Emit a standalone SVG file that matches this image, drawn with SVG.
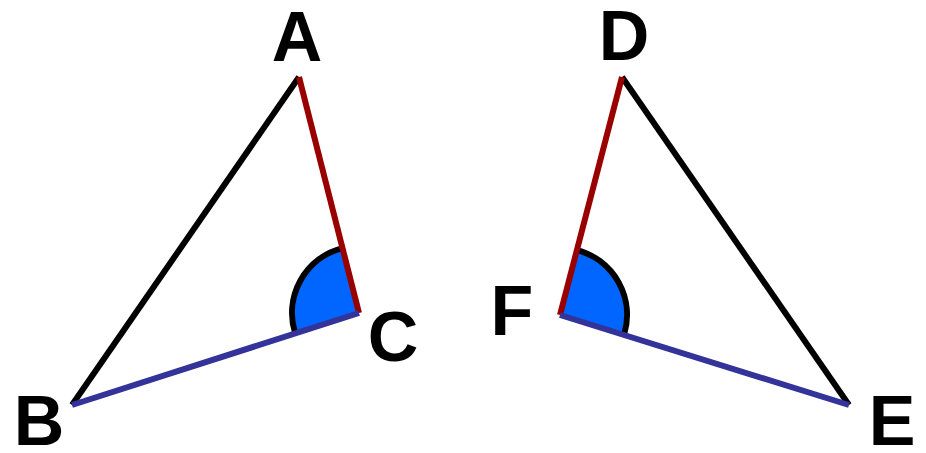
<svg xmlns="http://www.w3.org/2000/svg" width="926" height="453" viewBox="0 0 926 453">
<style>
.lbl{font-family:"Liberation Sans",Arial,sans-serif;font-weight:bold;font-size:70px;fill:#000;text-anchor:middle}
.blk{stroke:#000;stroke-width:6;fill:none;stroke-linecap:butt}
.red{stroke:#990000;stroke-width:6;fill:none}
.blu{stroke:#333399;stroke-width:6;fill:none}
.wedge{fill:#0066FF;stroke:none}
.arc{fill:none;stroke:#000;stroke-width:6}
</style>
<g id="angleC">
<path class="wedge" d="M359,313 L295.2,333.4 A67,67 0 0 1 342.5,248.1 Z"/>
<path class="arc" d="M295.2,333.4 A67,67 0 0 1 342.5,248.1"/>
</g>
<g id="angleF">
<path class="wedge" d="M560,315 L576.9,250.1 A67,67 0 0 1 624,334.9 Z"/>
<path class="arc" d="M576.9,250.1 A67,67 0 0 1 624,334.9"/>
</g>
<g id="connectors">
<line class="blk" x1="299" y1="77" x2="72" y2="405"/>
<line class="red" x1="299" y1="77" x2="359" y2="313"/>
<line class="blu" x1="359" y1="313" x2="72" y2="405"/>
<line class="blk" x1="622" y1="77" x2="849" y2="405"/>
<line class="red" x1="622" y1="77" x2="560" y2="315"/>
<line class="blu" x1="560" y1="315" x2="849" y2="405"/>
</g>
<g id="A"><text class="lbl" x="297" y="61">A</text></g>
<g id="B"><text class="lbl" x="39" y="445">B</text></g>
<g id="C"><text class="lbl" x="393" y="361">C</text></g>
<g id="D"><text class="lbl" x="624" y="60">D</text></g>
<g id="E"><text class="lbl" x="892" y="445">E</text></g>
<g id="F"><text class="lbl" x="512" y="335">F</text></g>
</svg>
